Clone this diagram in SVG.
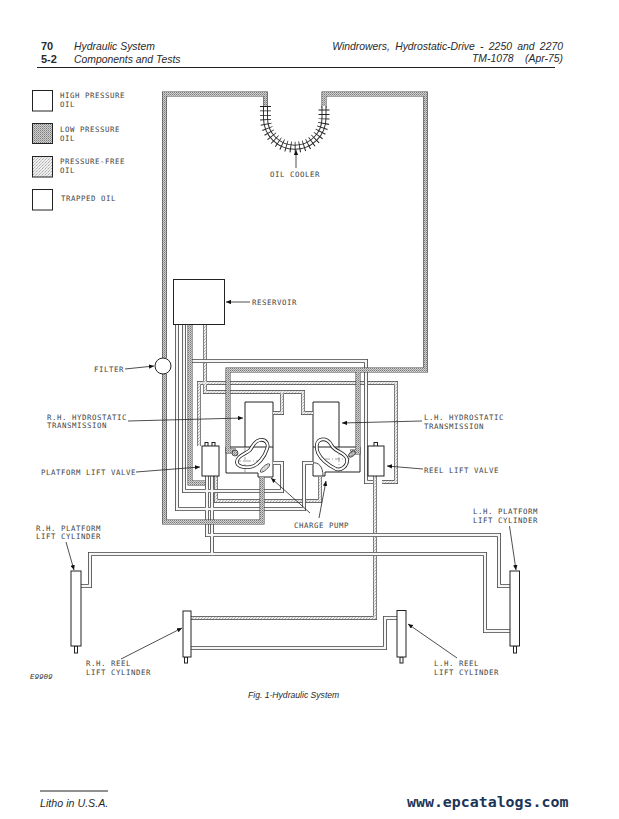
<svg xmlns="http://www.w3.org/2000/svg" width="619" height="819" viewBox="0 0 619 819">
<style>
text{fill:#2a2a2a}
.h{font:italic 10.4px "Liberation Sans",Arial,sans-serif}
.b{font:bold 11px "Liberation Sans",Arial,sans-serif}
.m{font:7.4px "DejaVu Sans Mono","Liberation Mono",monospace;letter-spacing:.55px;fill:#444}
.box{fill:#fff;stroke:#222;stroke-width:1}
.rule{stroke:#222;stroke-width:1;fill:none}
.pipe{fill:none;stroke-linejoin:miter}
.c5{stroke:#444;stroke-width:5}
.c4{stroke:#444;stroke-width:3.9}
.flo{stroke:url(#lo);stroke-width:3.9}
.ffr{stroke:url(#fr);stroke-width:2.7}
.fhi{stroke:#f6f6f6;stroke-width:2.3}
.lead{stroke:#222;stroke-width:.8;fill:none;marker-end:url(#ah)}
.thin{stroke:#666;stroke-width:.6;fill:none;stroke-dasharray:5 2 1 2}
</style>
<defs>
<pattern id="lo" width="2" height="2" patternUnits="userSpaceOnUse"><rect width="2" height="2" fill="#cfcfcf"/><rect width="1" height="1" fill="#7a7a7a"/><rect x="1" y="1" width="1" height="1" fill="#a0a0a0"/></pattern>
<pattern id="fr" width="3" height="3" patternUnits="userSpaceOnUse"><rect width="3" height="3" fill="#eee"/><rect width="1" height="1" fill="#aaa"/><rect x="2" y="1" width="1" height="1" fill="#ccc"/><rect x="1" y="2" width="1" height="1" fill="#bbb"/></pattern>
<marker id="ah" markerWidth="6" markerHeight="4.4" refX="5" refY="2.2" orient="auto" markerUnits="userSpaceOnUse"><path d="M0 0L5 2.2L0 4.4Z" fill="#111"/></marker>
<g id="lowpaths">
<path d="M164.5 358V94H265.5V108"/>
<path d="M324 108V94H425.5V370H228V451H236"/>
<path d="M358 370V452H350"/>
<path d="M164.5 374V522H262V477"/>
<path d="M190 323V483H205"/>
</g>
<g id="freepaths">
<path d="M205 323V392H282V413H273"/>
<path d="M282 392H303V413H313"/>
<path d="M199 446V383H396V482H382"/>
<path d="M216 476V501H320V477"/>
<path d="M375 476V618H191"/>
</g>
<g id="hipaths">
<path d="M177 323V509H304V463H313"/>
<path d="M184 323V491H282V463H273"/>
<path d="M190 361H366V482H373"/>
<path d="M207 476V535H499V586H510"/>
<path d="M212 476V554H90V586H81"/>
<path d="M212 554H485V631H510"/>
<path d="M397 618H385V648H191"/>
</g>
</defs>
<rect width="619" height="819" fill="#fff"/>

<g id="header">
<text class="b" x="41" y="50">70</text>
<text class="h" x="74" y="50">Hydraulic System</text>
<text class="b" x="41" y="63">5-2</text>
<text class="h" x="74" y="63">Components and Tests</text>
<text class="h" x="563" y="50" text-anchor="end" word-spacing="2.4">Windrowers, Hydrostatic-Drive - 2250 and 2270</text>
<text class="h" x="563" y="62" text-anchor="end">TM-1078 &#160; &#160;(Apr-75)</text>
<line class="rule" x1="37" y1="67.5" x2="555" y2="67.5"/>
</g>

<g id="legend-high"><rect class="box" x="32.5" y="90.5" width="20" height="20.5"/><text class="m" x="60" y="98">HIGH PRESSURE</text><text class="m" x="60" y="107">OIL</text></g>
<g id="legend-low"><rect class="box" x="32.5" y="123.5" width="20" height="20" style="fill:url(#lo)"/><text class="m" x="60" y="132">LOW PRESSURE</text><text class="m" x="60" y="141">OIL</text></g>
<g id="legend-free"><rect class="box" x="32.5" y="156.5" width="20" height="20.5" style="fill:url(#fr)"/><text class="m" x="60" y="164">PRESSURE-FREE</text><text class="m" x="60" y="173">OIL</text></g>
<g id="legend-trapped"><rect class="box" x="32.5" y="189.5" width="20" height="20.5"/><text class="m" x="61" y="201">TRAPPED OIL</text></g>

<g id="rh-transmission">
<path class="box" d="M245 402H273V477H258V473H226V447H245Z"/>
<path class="rule" d="M245 447H273"/>
<path class="thin" d="M245 447V473M236 461H262"/>
<text class="m" x="47" y="420">R.H. HYDROSTATIC</text><text class="m" x="47" y="428">TRANSMISSION</text>
</g>
<g id="lh-transmission">
<path class="box" d="M313 402H339V447H360V472H325V476H313Z"/>
<path class="rule" d="M313 447H339"/>
<path class="thin" d="M339 447V472M325 459H352"/>
<text class="m" x="424" y="420">L.H. HYDROSTATIC</text><text class="m" x="424" y="429">TRANSMISSION</text>
</g>

<g id="connectors">
<use href="#freepaths" class="pipe c4"/><use href="#freepaths" class="pipe ffr"/>
<use href="#hipaths" class="pipe c4"/><use href="#hipaths" class="pipe fhi"/>
<use href="#lowpaths" class="pipe c5"/><use href="#lowpaths" class="pipe flo"/>
<path class="lead" d="M296 168V150"/>
<path class="lead" d="M250 302H226"/>
<path class="lead" d="M125 369L154 366"/>
<path class="lead" d="M128 421L243 418"/>
<path class="lead" d="M136 472L200 467"/>
<path class="lead" d="M422 421L342 423"/>
<path class="lead" d="M423 469L387 466"/>
<path class="lead" d="M310 513L271 478"/>
<path class="lead" d="M319 518L326 481"/>
<path class="lead" d="M66 542L74 570"/>
<path class="lead" d="M121 659L182 628"/>
<path class="lead" d="M509.5 526L516 570"/>
<path class="lead" d="M457 658L408 624"/>
</g>

<g id="oil-cooler">
<path d="M265.5 106V118A29.25 29.25 0 0 0 324 118V106" fill="none" stroke="#333" stroke-width="5"/>
<path d="M265.5 106V118A29.25 29.25 0 0 0 324 118V106" fill="none" stroke="#fff" stroke-width="3"/>
<path d="M265.5 106V118A29.25 29.25 0 0 0 324 118V106" fill="none" stroke="#222" stroke-width="11" stroke-dasharray=".9 3.55"/>
<text class="m" x="270" y="177">OIL COOLER</text>
</g>

<g id="reservoir"><rect class="box" x="173.5" y="279.5" width="51" height="45"/><text class="m" x="252" y="305">RESERVOIR</text></g>
<g id="filter"><circle class="box" cx="163" cy="366" r="8"/><text class="m" x="94" y="372">FILTER</text></g>

<g id="rh-pump">
<path d="M260 440C266 439 269 444 267 449C265 456 258 466 250 467C243 468 236 466 237 461C238 455 246 454 250 450C253 446 254 441 260 440Z" fill="none" stroke="#222" stroke-width="3.6"/>
<path d="M260 440C266 439 269 444 267 449C265 456 258 466 250 467C243 468 236 466 237 461C238 455 246 454 250 450C253 446 254 441 260 440Z" fill="none" stroke="#fff" stroke-width="2"/>
<circle cx="235" cy="453" r="3" fill="url(#lo)" stroke="#222" stroke-width=".7"/>
<ellipse cx="265" cy="468" rx="6" ry="2" transform="rotate(-42 265 468)" fill="url(#fr)" stroke="#222" stroke-width=".7"/>
</g>
<g id="lh-pump">
<path d="M320 440C325 438 330 441 332 446C334 451 346 453 347 459C348 466 341 471 336 469C330 466 322 461 318 453C316 448 316 442 320 440Z" fill="none" stroke="#222" stroke-width="3.6"/>
<path d="M320 440C325 438 330 441 332 446C334 451 346 453 347 459C348 466 341 471 336 469C330 466 322 461 318 453C316 448 316 442 320 440Z" fill="none" stroke="#fff" stroke-width="2"/>
<ellipse cx="352" cy="454" rx="4" ry="2.3" transform="rotate(-40 352 454)" fill="url(#lo)" stroke="#222" stroke-width=".7"/>
<path d="M313 463C318 462 323 466 323 476" fill="none" stroke="#333" stroke-width=".9"/>
</g>
<g id="charge-pump"><text class="m" x="294" y="528">CHARGE PUMP</text></g>

<g id="platform-lift-valve">
<rect class="box" x="205" y="442.5" width="3" height="4"/><rect class="box" x="212" y="442.5" width="3" height="4"/>
<rect class="box" x="202" y="446" width="17" height="30"/>
<text class="m" x="41" y="475">PLATFORM LIFT VALVE</text>
</g>
<g id="reel-lift-valve">
<rect class="box" x="374" y="442.5" width="3.5" height="4"/>
<rect class="box" x="368" y="446" width="16" height="30"/>
<text class="m" x="424" y="473">REEL LIFT VALVE</text>
</g>

<g id="rh-platform-cylinder">
<rect class="box" x="74.5" y="646" width="3" height="7"/>
<rect class="box" x="71" y="571" width="10" height="75"/>
<text class="m" x="36" y="531">R.H. PLATFORM</text><text class="m" x="36" y="539">LIFT CYLINDER</text>
</g>
<g id="lh-platform-cylinder">
<rect class="box" x="513.5" y="646" width="3" height="7"/>
<rect class="box" x="510" y="571" width="9.5" height="75"/>
<text class="m" x="473" y="514">L.H. PLATFORM</text><text class="m" x="473" y="523">LIFT CYLINDER</text>
</g>
<g id="rh-reel-cylinder">
<rect class="box" x="184.5" y="657" width="3" height="6"/>
<rect class="box" x="183" y="611" width="8" height="46"/>
<text class="m" x="86" y="666">R.H. REEL</text><text class="m" x="86" y="675">LIFT CYLINDER</text>
</g>
<g id="lh-reel-cylinder">
<rect class="box" x="400" y="657" width="3" height="6"/>
<rect class="box" x="397" y="610.5" width="9" height="46.5"/>
<text class="m" x="434" y="666">L.H. REEL</text><text class="m" x="434" y="675">LIFT CYLINDER</text>
</g>

<g id="footer">
<text x="30" y="679" style="font:italic 7.5px 'Liberation Mono',monospace">E9909</text>
<text x="248" y="698" style="font:italic 8.6px 'Liberation Sans',Arial,sans-serif">Fig. 1-Hydraulic System</text>
<line class="rule" x1="40" y1="791" x2="108" y2="791"/>
<text x="40" y="807" style="font:italic 10.7px 'Liberation Sans',Arial,sans-serif">Litho in U.S.A.</text>
<text x="407" y="807" style="font:bold 14.9px 'DejaVu Sans Mono',monospace;fill:#1b3557">www.epcatalogs.com</text>
</g>
</svg>
